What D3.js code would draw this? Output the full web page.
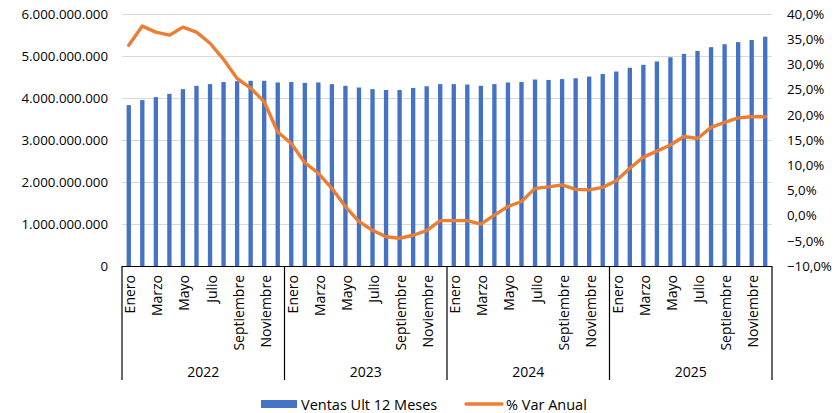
<!DOCTYPE html>
<html><head><meta charset="utf-8">
<script src="https://cdn.jsdelivr.net/npm/d3@7"></script>
<style>body{margin:0;background:#fff}svg{display:block}text{font-family:"Open Sans",sans-serif;fill:#000}</style>
</head><body><svg id="c" width="837" height="413"></svg>
<script>
const years = ["2022","2023","2024","2025"];
const months = ["Enero","Febrero","Marzo","Abril","Mayo","Junio","Julio","Agosto","Septiembre","Octubre","Noviembre","Diciembre"];
const ventas = [
 3.83,3.95,4.02,4.10,4.21,4.29,4.33,4.38,4.40,4.41,4.41,4.37,
 4.38,4.36,4.37,4.33,4.29,4.25,4.21,4.19,4.19,4.24,4.28,4.33,
 4.33,4.32,4.29,4.33,4.37,4.38,4.44,4.43,4.45,4.47,4.51,4.57,
 4.63,4.72,4.79,4.87,4.97,5.05,5.12,5.21,5.28,5.33,5.38,5.46
].map(v=>v*1e9);
const varAnual = [
 33.8,37.6,36.4,35.8,37.4,36.4,34.2,31.0,27.2,25.3,22.6,16.6,
 14.3,10.5,8.4,5.4,1.8,-1.2,-2.9,-4.2,-4.5,-3.9,-3.0,-1.0,
 -1.0,-1.0,-1.7,0.1,1.8,2.8,5.4,5.7,6.1,5.2,5.1,5.6,
 6.9,9.4,11.6,12.8,14.0,15.7,15.3,17.5,18.5,19.4,19.6,19.6
];
const leftTicks = [0,1e9,2e9,3e9,4e9,5e9,6e9];
const rightTicks = [-10,-5,0,5,10,15,20,25,30,35,40];
const seriesNames = ["Ventas Ult 12 Meses","% Var Anual"];

const svg = d3.select("#c");
const L=122, R=772, T=14, B=266, boxBottom=380;
const cats = [];
years.forEach(y=>months.forEach(m=>cats.push(y+"-"+m)));
const x = d3.scaleBand().domain(cats).range([L,R]).paddingInner(0.68).paddingOuter(0.34);
const yL = d3.scaleLinear().domain([0,6e9]).range([B,T]);
const yR = d3.scaleLinear().domain([-10,40]).range([B,T]);
const fmtL = v => v===0 ? "0" : d3.format(",")(v).replace(/,/g,".");
const fmtR = v => d3.format(".1f")(v).replace(".",",")+"%";

// gridlines
svg.append("g").selectAll("line").data(leftTicks.slice(1)).join("line")
 .attr("x1",L).attr("x2",R).attr("y1",d=>yL(d)+0.5).attr("y2",d=>yL(d)+0.5)
 .attr("stroke","#d9d9d9").attr("stroke-width",1);

// left axis
const ga = svg.append("g").attr("transform",`translate(${L-14},0)`)
 .call(d3.axisLeft(yL).tickValues(leftTicks).tickFormat(fmtL).tickSize(0).tickPadding(0));
ga.select(".domain").remove();
ga.selectAll("text").style("font-size","13.3px").style("font-family","'Open Sans',sans-serif").attr("fill","#000");

// right axis
const gr = svg.append("g").attr("transform",`translate(${R+15},0)`)
 .call(d3.axisRight(yR).tickValues(rightTicks).tickFormat(fmtR).tickSize(0).tickPadding(0));
gr.select(".domain").remove();
gr.selectAll("text").style("font-size","13.3px").style("font-family","'Open Sans',sans-serif").attr("fill","#000");

// bars
svg.append("g").selectAll("rect").data(ventas).join("rect")
 .attr("x",(d,i)=>x(cats[i])).attr("width",x.bandwidth())
 .attr("y",d=>yL(d)).attr("height",d=>B-yL(d)).attr("fill","#4472C4");

// line
const cx = i => x(cats[i]) + x.bandwidth()/2;
svg.append("path").datum(varAnual)
 .attr("d",d3.line().x((d,i)=>cx(i)).y(d=>yR(d)))
 .attr("fill","none").attr("stroke","#ED7D31").attr("stroke-width",3.4).attr("stroke-linejoin","round").attr("stroke-linecap","round");

// category box
const gb = svg.append("g").attr("stroke","#000").attr("stroke-width",1.2);
gb.append("line").attr("x1",L).attr("x2",R).attr("y1",B+0.5).attr("y2",B+0.5);
const sepX = years.map((y,i)=>x(y+"-Enero") - x.step()*0.34).concat([R]);
sepX[0]=L;
sepX.forEach(sx=>gb.append("line").attr("x1",sx).attr("x2",sx).attr("y1",B).attr("y2",boxBottom));

// month labels (every other)
cats.forEach((c,i)=>{
  if(i%2!==0) return;
  const m = months[i%12];
  svg.append("text").attr("transform",`translate(${cx(i)+1},275) rotate(-90)`)
   .attr("text-anchor","end").attr("dominant-baseline","central")
   .style("font-size","14px").text(m);
});
// year labels
years.forEach((y,i)=>{
  svg.append("text").attr("x",(sepX[i]+sepX[i+1])/2).attr("y",371)
   .attr("text-anchor","middle").attr("dominant-baseline","central")
   .style("font-size","14px").text(y);
});

// legend
svg.append("rect").attr("x",261).attr("y",400).attr("width",36).attr("height",8).attr("fill","#4472C4");
svg.append("text").attr("x",301).attr("y",404).attr("dominant-baseline","central").style("font-size","14.5px").text(seriesNames[0]);
svg.append("line").attr("x1",466).attr("x2",502).attr("y1",404).attr("y2",404).attr("stroke","#ED7D31").attr("stroke-width",3.4).attr("stroke-linecap","round");
svg.append("text").attr("x",506).attr("y",404).attr("dominant-baseline","central").style("font-size","14.5px").text(seriesNames[1]);
</script></body></html>
